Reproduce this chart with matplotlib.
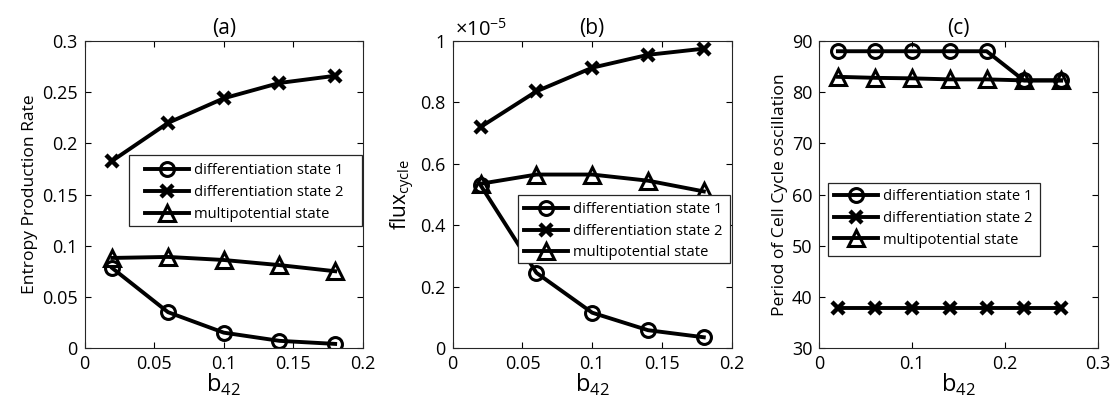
import matplotlib
matplotlib.use("Agg")
import matplotlib.pyplot as plt
from matplotlib.patches import Rectangle
import numpy as np

plt.rcParams['font.family'] = ['Open Sans', 'DejaVu Sans']
plt.rcParams['mathtext.fontset'] = 'custom'
plt.rcParams['mathtext.rm'] = 'Open Sans'

x_ab = [0.02, 0.06, 0.10, 0.14, 0.18]
x_c = [0.02, 0.06, 0.10, 0.14, 0.18, 0.22, 0.26]

a_ds1 = [0.078, 0.035, 0.015, 0.007, 0.004]
a_ds2 = [0.183, 0.220, 0.244, 0.259, 0.266]
a_mp = [0.088, 0.089, 0.086, 0.081, 0.075]

b_ds1 = [0.530, 0.245, 0.115, 0.058, 0.035]
b_ds2 = [0.720, 0.836, 0.913, 0.955, 0.975]
b_mp = [0.535, 0.565, 0.565, 0.545, 0.510]

c_ds1 = [88.0, 88.0, 88.0, 88.0, 88.0, 82.3, 82.3]
c_ds2 = [37.8, 37.8, 37.8, 37.8, 37.8, 37.8, 37.8]
c_mp = [83.0, 82.8, 82.7, 82.5, 82.5, 82.3, 82.3]

labels = ['differentiation state 1', 'differentiation state 2', 'multipotential state']
titles = ['(a)', '(b)', '(c)']

W, H = 1110, 405
fig = plt.figure(figsize=(W / 100, H / 100), dpi=100)

boxes = [(84.5, 363), (452.7, 731.7), (819.3, 1098.3)]
top, bottom = 41, 348

def mk_ax(l, r):
    return fig.add_axes([l / W, 1 - bottom / H, (r - l) / W, (bottom - top) / H])

axes = [mk_ax(l, r) for l, r in boxes]

styles = [dict(marker='o', ms=10, mew=2.2), dict(marker='x', ms=8, mew=3.2), dict(marker='^', ms=11, mew=2.2)]

def plot_series(ax, x, series):
    for y, st, lab in zip(series, styles, labels):
        ax.plot(x, y, color='k', lw=2.8, marker=st['marker'], ms=st['ms'],
                mfc='none', mec='k', mew=st['mew'], label=lab)

plot_series(axes[0], x_ab, [a_ds1, a_ds2, a_mp])
plot_series(axes[1], x_ab, [b_ds1, b_ds2, b_mp])
plot_series(axes[2], x_c, [c_ds1, c_ds2, c_mp])

axes[0].set_xlim(0, 0.2); axes[0].set_ylim(0, 0.3)
axes[0].set_xticks([0, 0.05, 0.1, 0.15, 0.2]); axes[0].set_xticklabels(['0', '0.05', '0.1', '0.15', '0.2'])
axes[0].set_yticks([0, 0.05, 0.1, 0.15, 0.2, 0.25, 0.3]); axes[0].set_yticklabels(['0', '0.05', '0.1', '0.15', '0.2', '0.25', '0.3'])
axes[0].set_ylabel('Entropy Production Rate', fontsize=12.6, labelpad=3)

axes[1].set_xlim(0, 0.2); axes[1].set_ylim(0, 1)
axes[1].set_xticks([0, 0.05, 0.1, 0.15, 0.2]); axes[1].set_xticklabels(['0', '0.05', '0.1', '0.15', '0.2'])
axes[1].set_yticks([0, 0.2, 0.4, 0.6, 0.8, 1]); axes[1].set_yticklabels(['0', '0.2', '0.4', '0.6', '0.8', '1'])
axes[1].set_ylabel(r'flux$_{\mathregular{cycle}}$', fontsize=15, labelpad=2)
fig.text(455 / W, 1 - 36 / H, r'$\times\mathregular{10^{-5}}$', fontsize=14.5, ha='left', va='baseline')

axes[2].set_xlim(0, 0.3); axes[2].set_ylim(30, 90)
axes[2].set_xticks([0, 0.1, 0.2, 0.3]); axes[2].set_xticklabels(['0', '0.1', '0.2', '0.3'])
axes[2].set_yticks([30, 40, 50, 60, 70, 80, 90])
axes[2].set_ylabel('Period of Cell Cycle oscillation', fontsize=12.6, labelpad=3)

for ax, t in zip(axes, titles):
    ax.set_title(t, fontsize=15, pad=5)
    ax.set_xlabel(r'b$_{\mathregular{42}}$', fontsize=17, labelpad=-1)
    ax.tick_params(direction='in', top=True, right=True, labelsize=13, length=4, width=0.8, pad=5)
    for s in ax.spines.values():
        s.set_color('#262626'); s.set_linewidth(0.8)

# legend frames (l, r, t, b) and handle anchor (x, y_center)
leg_frames = [(129.3, 361.7, 155, 226), (518.3, 730, 195, 262.7), (828.3, 1040, 183, 256.3)]
leg_anchor = [(145, 192.6), (524, 231.3), (834, 218.5)]
for ax, (l, r, t, b), (ax_, ay_) in zip(axes, leg_frames, leg_anchor):
    leg = ax.legend(loc='center left', bbox_to_anchor=(ax_ / W, 1 - ay_ / H),
                    bbox_transform=fig.transFigure,
                    fontsize=10.6, frameon=False,
                    handlelength=3.0, handletextpad=0.3, borderpad=0, labelspacing=0.45,
                    borderaxespad=0)
    leg.set_zorder(6)
    rect = Rectangle((l / W, 1 - b / H), (r - l) / W, (b - t) / H,
                     transform=fig.transFigure, facecolor='white',
                     edgecolor='#262626', lw=0.9, zorder=5, clip_on=False)
    ax.add_artist(rect)

fig.savefig('out.png', dpi=100)
